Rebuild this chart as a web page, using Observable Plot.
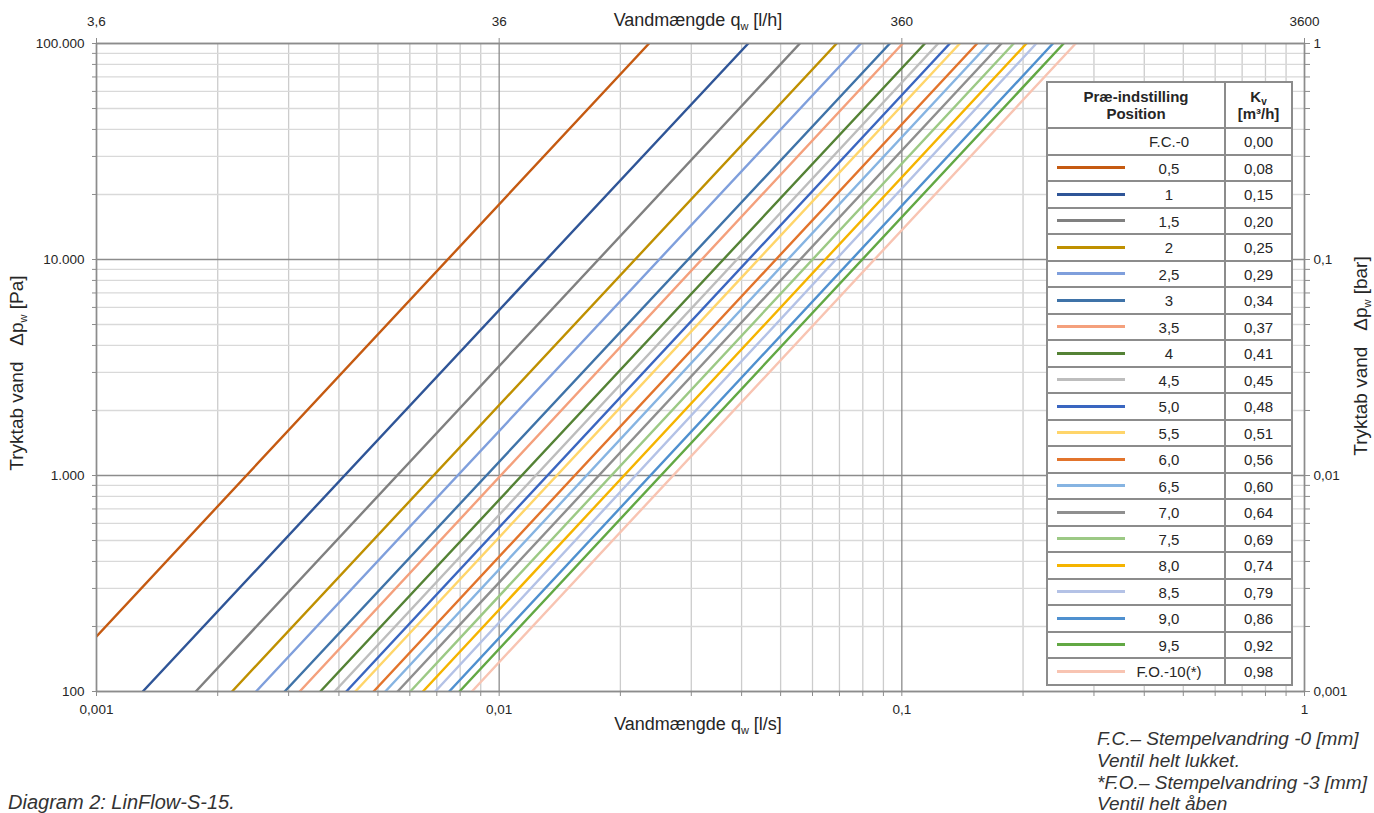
<!DOCTYPE html>
<html><head><meta charset="utf-8">
<script src="https://cdn.jsdelivr.net/npm/d3@7"></script>
<script src="https://cdn.jsdelivr.net/npm/@observablehq/plot@0.6"></script>
<style>
html,body{margin:0;padding:0;background:#fff;}
body{font-family:"Liberation Sans",Arial,Helvetica,sans-serif;color:#262626;}
#wrap{position:relative;width:1374px;height:813px;overflow:hidden;}
.abs{position:absolute;white-space:nowrap;}
.ctr{transform:translate(-50%,-50%);}
.rot{transform:translate(-50%,-50%) rotate(-90deg);font-size:19px !important;}
.ttl{font-size:18px;color:#262626;}
sub{font-size:11px;vertical-align:-4px;line-height:0;}
.cap{font-style:italic;font-size:19px;color:#333;}
#legend{position:absolute;left:1046px;top:81px;width:247px;height:605px;box-sizing:border-box;border:2px solid #8c8c8c;background:#fff;color:#262626;}
#legend .hl{position:absolute;left:0;right:0;height:2px;background:#8c8c8c;}
#legend .vl{position:absolute;top:0;bottom:0;width:2px;background:#8c8c8c;}
#legend .t{position:absolute;transform:translate(-50%,-50%);white-space:nowrap;font-size:15px;}
#legend .h{position:absolute;transform:translate(-50%,-50%);white-space:nowrap;font-size:15px;font-weight:bold;text-align:center;line-height:17px;}
#legend .sw{position:absolute;height:3px;width:68px;}
</style></head><body><div id="wrap"></div>
<script>
// ---- data ----
const positions = ["0,5","1","1,5","2","2,5","3","3,5","4","4,5","5,0","5,5","6,0","6,5","7,0","7,5","8,0","8,5","9,0","9,5","F.O.-10(*)"];
const kvLabels  = ["0,08","0,15","0,20","0,25","0,29","0,34","0,37","0,41","0,45","0,48","0,51","0,56","0,60","0,64","0,69","0,74","0,79","0,86","0,92","0,98"];
const colors    = ["#c55a11","#2f5597","#808080","#bf9000","#7f9fdc","#3f73a8","#f4a07c","#548235","#bdbdbd","#3a66c0","#ffd56a","#e2742c","#86b4e2","#8f8f8f","#9cc985","#f5b400","#b4c2e6","#4f90cf","#62a844","#f8c4b2"];
// lower end point of each line (flow l/s, pressure Pa)
const qLow  = [0.001,0.001303,0.001764,0.002171,0.002490,0.002933,0.003196,0.003596,0.003902,0.004172,0.004393,0.004877,0.005214,0.005594,0.006014,0.006465,0.006936,0.007513,0.007969,0.008556];
const dpLow = [180,100,100,100,100,100,100,100,100,100,100,100,100,100,100,100,100,100,100,100];
// upper end point of each line (flow l/s at 100 000 Pa)
const qHigh = [0.02356,0.04155,0.05582,0.06887,0.07912,0.09337,0.1005,0.1141,0.1231,0.1316,0.1393,0.1538,0.1647,0.1768,0.1896,0.2039,0.2158,0.2373,0.2523,0.2703];
const dpHigh = [100000,100000,100000,100000,100000,100000,100000,100000,100000,100000,100000,100000,100000,100000,100000,100000,100000,100000,100000,100000];
// legend extra row
const closedLabel = "F.C.-0", closedKv = "0,00";
// axes
const xMajor = [0.001, 0.01, 0.1, 1];
const xLabelsBottom = ["0,001","0,01","0,1","1"];
const xLabelsTop = ["3,6","36","360","3600"];
const yMajor = [100, 1000, 10000, 100000];
const yLabelsLeft = ["100","1.000","10.000","100.000"];
const yLabelsRight = ["0,001","0,01","0,1","1"];

// minor grid values (2..9 in each decade)
const xMinor = [], yMinor = [];
for (const d of xMajor.slice(0,-1)) for (let k=2;k<=9;k++) xMinor.push(d*k);
for (const d of yMajor.slice(0,-1)) for (let k=2;k<=9;k++) yMinor.push(d*k);
const xAll = xMajor.concat(xMinor), yAll = yMajor.concat(yMinor);

const gray = "#8c8c8c";
const fs = 13.5;
const lineMarks = positions.map((p,i) => Plot.line(
  [{q:qLow[i], dp:dpLow[i]}, {q:qHigh[i], dp:dpHigh[i]}],
  {x:"q", y:"dp", stroke: colors[i], strokeWidth: 2.4, clip: true}
));

const chart = Plot.plot({
  width: 1374, height: 813,
  marginLeft: 96, marginRight: 70, marginTop: 43, marginBottom: 122,
  style: {fontFamily: '"Liberation Sans", Arial, sans-serif', fontSize: fs + "px", color: "#262626", background: "transparent"},
  x: {type: "log", domain: [0.001, 1]},
  y: {type: "log", domain: [100, 100000]},
  marks: [
    Plot.gridX(xMinor, {stroke: "#cccccc", strokeOpacity: 1, strokeWidth: 1.3}),
    Plot.gridY(yMinor, {stroke: "#d9d9d9", strokeOpacity: 1, strokeWidth: 1.3}),
    Plot.gridX(xMajor, {stroke: gray, strokeOpacity: 1, strokeWidth: 1.3}),
    Plot.gridY(yMajor, {stroke: gray, strokeOpacity: 1, strokeWidth: 1.3}),
    ...lineMarks,
    Plot.frame({stroke: gray, strokeWidth: 1.5}),
    Plot.axisX(xAll, {anchor: "bottom", tickSize: 5, tickFormat: () => "", label: null, stroke: gray}),
    Plot.axisX(xMajor, {anchor: "bottom", tickSize: 0, tickPadding: 13, tickFormat: d => xLabelsBottom[xMajor.indexOf(d)], label: null, fontSize: fs}),
    Plot.axisX(xMajor, {anchor: "top", tickSize: 6, tickPadding: 12, tickFormat: d => xLabelsTop[xMajor.indexOf(d)], label: null, fontSize: fs, stroke: gray}),
    Plot.axisY(yAll, {anchor: "left", tickSize: 4, tickFormat: () => "", label: null, stroke: gray}),
    Plot.axisY(yMajor, {anchor: "left", tickSize: 0, tickPadding: 12, tickFormat: d => yLabelsLeft[yMajor.indexOf(d)], label: null, fontSize: fs}),
    Plot.axisY(yAll, {anchor: "right", tickSize: 5, tickFormat: () => "", label: null, stroke: gray}),
    Plot.axisY(yMajor, {anchor: "right", tickSize: 0, tickPadding: 9, tickFormat: d => yLabelsRight[yMajor.indexOf(d)], label: null, fontSize: fs})
  ]
});

const wrap = document.getElementById("wrap");
chart.style.position = "absolute"; chart.style.left = "0"; chart.style.top = "0";
wrap.appendChild(chart);

function add(parent, html, cls, x, y) {
  const d = document.createElement("div");
  d.className = cls; d.innerHTML = html;
  d.style.left = x + "px"; d.style.top = y + "px";
  parent.appendChild(d); return d;
}
add(wrap, "Vandmængde q<sub>w</sub> [l/h]", "abs ttl ctr", 698, 20);
add(wrap, "Vandmængde q<sub>w</sub> [l/s]", "abs ttl ctr", 698, 724);
add(wrap, "Tryktab vand&nbsp;&nbsp;&nbsp;Δp<sub>w</sub> [Pa]", "abs ttl rot", 17, 373);
add(wrap, "Tryktab vand&nbsp;&nbsp;&nbsp;Δp<sub>w</sub> [bar]", "abs ttl rot", 1361, 356);
const diag = add(wrap, "Diagram 2: LinFlow-S-15.", "abs cap", 8, 791);
diag.style.fontSize = "20px";
const notes = add(wrap, "F.C.– Stempelvandring -0 [mm]<br>Ventil helt lukket.<br>*F.O.– Stempelvandring -3 [mm]<br>Ventil helt åben", "abs cap", 1097, 728);
notes.style.lineHeight = "21.8px";

// legend table (built from positions / kvLabels / colors)
const lg = document.createElement("div");
lg.id = "legend";
wrap.appendChild(lg);
const headH = 44, rowH = 26.5, col1 = 176; // inner coordinates (inside 2px border)
const vl = document.createElement("div"); vl.className = "vl"; vl.style.left = col1 + "px"; lg.appendChild(vl);
const kvX = col1 + 2 + (247 - 4 - col1 - 2) / 2;
add(lg, "Præ-indstilling<br>Position", "h", col1/2, headH/2);
add(lg, "K<sub style='font-size:10px;vertical-align:-3px'>v</sub><br>[m³/h]", "h", kvX, headH/2);
const labels = [closedLabel].concat(positions), kvs = [closedKv].concat(kvLabels), cols = [null].concat(colors);
labels.forEach((lab, i) => {
  const top = headH + i*rowH;
  const hl = document.createElement("div"); hl.className = "hl"; hl.style.top = top + "px"; lg.appendChild(hl);
  const cy = top + 1 + rowH/2;
  if (cols[i]) { const s = add(lg, "", "sw", 9, cy - 1.5); s.style.background = cols[i]; }
  add(lg, lab, "t", 121, cy);
  add(lg, kvs[i], "t", kvX, cy);
});
</script>
</body></html>
